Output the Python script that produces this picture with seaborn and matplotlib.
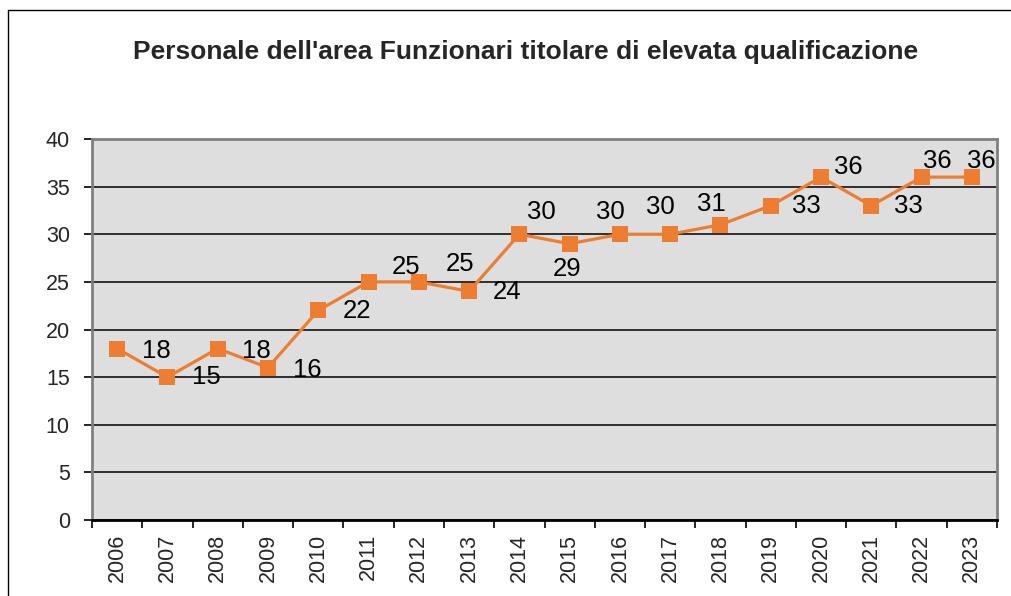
import matplotlib
matplotlib.use("Agg")
import matplotlib.pyplot as plt
from matplotlib.lines import Line2D
import pandas as pd
import seaborn as sns

# data
years = [2006, 2007, 2008, 2009, 2010, 2011, 2012, 2013, 2014,
         2015, 2016, 2017, 2018, 2019, 2020, 2021, 2022, 2023]
staff = [18, 15, 18, 16, 22, 25, 25, 24, 30,
         29, 30, 30, 31, 33, 36, 33, 36, 36]
title = "Personale dell'area Funzionari titolare di elevata qualificazione"

# label placement (pixels from the point), as in the original chart
label_offsets = [(39, -2), (39, 0), (39, -2), (39, -2), (39, -1), (38, 15),
                 (41, 18), (38, -1), (22, 22), (-3, -25), (-10, 22), (-10, 27),
                 (-9, 21), (36, 0), (27, 10), (37, 0), (16, 16), (9, 16)]

df = pd.DataFrame({"anno": years, "personale": staff})

sns.set_theme(style="white")
plt.rcParams["font.family"] = ["Liberation Sans", "DejaVu Sans"]

orange = "#ED7D31"

fig = plt.figure(figsize=(10.11, 5.96), dpi=100)
ax = fig.add_axes([92 / 1011, 1 - 520 / 596, (997 - 92) / 1011, (520 - 139) / 596])
ax.set_facecolor("#DEDEDE")

sns.lineplot(data=df, x="anno", y="personale", ax=ax, color=orange,
             linewidth=2.3, marker="s", markersize=12, markeredgewidth=0,
             zorder=3)

for x, y, (dx, dy) in zip(years, staff, label_offsets):
    ax.annotate(str(y), (x, y), xytext=(dx, dy), textcoords="offset pixels",
                ha="center", va="center", fontsize=18.5, color="black", zorder=4)

ax.set_ylim(0, 40)
ax.set_yticks(range(0, 41, 5))
ax.set_xlim(years[0] - 0.5, years[-1] + 0.5)
ax.set_xticks(years)
ax.set_xticklabels([str(y) for y in years], rotation=90)
ax.set_xticks([y - 0.5 for y in years] + [years[-1] + 0.5], minor=True)

ax.grid(axis="y", color="black", linewidth=1.1)
ax.set_axisbelow(True)

ax.tick_params(axis="x", which="major", length=0, pad=10, labelsize=15.5)
ax.tick_params(axis="x", which="minor", length=6, width=1.2, color="black",
               direction="out", bottom=True)
ax.tick_params(axis="y", length=6, width=1.2, color="black", direction="out",
               left=True, pad=10, labelsize=15.5)

for side in ["left", "top", "right"]:
    ax.spines[side].set_color("#808080")
    ax.spines[side].set_linewidth(2)
ax.spines["bottom"].set_color("black")
ax.spines["bottom"].set_linewidth(2)

ax.set_xlabel("")
ax.set_ylabel("")

fig.text(0.52, 1 - 52 / 596, title, ha="center", va="center",
         fontsize=19, fontweight="bold")

# thin outer frame of the chart object
fig.add_artist(Line2D([7.5 / 1011, 7.5 / 1011], [0, 1 - 10 / 596],
                      color="black", linewidth=1, transform=fig.transFigure))
fig.add_artist(Line2D([7.5 / 1011, 1], [1 - 10 / 596, 1 - 10 / 596],
                      color="black", linewidth=1, transform=fig.transFigure))

fig.savefig("out.png", dpi=100, facecolor="white")
